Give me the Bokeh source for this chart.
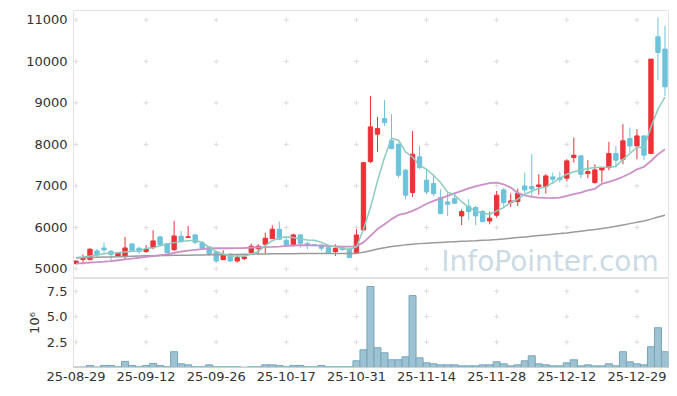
from bokeh.plotting import figure
from bokeh.models import ColumnDataSource, Range1d, FixedTicker, NumeralTickFormatter, Label
from bokeh.layouts import column
from bokeh.embed import file_html
from bokeh.resources import INLINE

# ---------------- data ----------------
dates = [
    "25-08-29",
    "25-09-01", "25-09-02", "25-09-03", "25-09-04", "25-09-05",
    "25-09-08", "25-09-09", "25-09-10", "25-09-11", "25-09-12",
    "25-09-15", "25-09-16", "25-09-17", "25-09-18", "25-09-19",
    "25-09-22", "25-09-23", "25-09-24", "25-09-25", "25-09-26",
    "25-09-29", "25-09-30", "25-10-01", "25-10-02", "25-10-10",
    "25-10-13", "25-10-14", "25-10-15", "25-10-16", "25-10-17",
    "25-10-20", "25-10-21", "25-10-22", "25-10-23", "25-10-24",
    "25-10-27", "25-10-28", "25-10-29", "25-10-30", "25-10-31",
    "25-11-03", "25-11-04", "25-11-05", "25-11-06", "25-11-07",
    "25-11-10", "25-11-11", "25-11-12", "25-11-13", "25-11-14",
    "25-11-17", "25-11-18", "25-11-19", "25-11-20", "25-11-21",
    "25-11-24", "25-11-25", "25-11-26", "25-11-27", "25-11-28",
    "25-12-01", "25-12-02", "25-12-03", "25-12-04", "25-12-05",
    "25-12-08", "25-12-09", "25-12-10", "25-12-11", "25-12-12",
    "25-12-15", "25-12-16", "25-12-17", "25-12-18", "25-12-19",
    "25-12-22", "25-12-23", "25-12-24", "25-12-26", "25-12-29",
    "25-12-30", "26-01-02", "26-01-05", "26-01-06",
]

opens = [5130, 5230, 5224, 5434, 5506, 5426, 5313, 5313, 5602, 5499,
         5417, 5513, 5771, 5610, 5465, 5787, 5760, 5819, 5634, 5530,
         5410, 5224, 5354, 5193, 5250, 5393, 5490, 5595, 5730, 5957,
         5692, 5578, 5819, 5610, 5586, 5571, 5513, 5417, 5513, 5475,
         5393, 5940, 7586, 8246, 8622, 8085, 8005, 7379, 6840, 7700,
         7138, 7056, 6718, 6615, 6696, 6277, 6511, 6478, 6381, 6157,
         6294, 6904, 6598, 6622, 7000, 6984, 6984, 6984, 7217, 7193,
         7186, 7683, 7723, 7297, 7080, 7385, 7441, 7779, 7644, 8140,
         7964, 8205, 7779, 10591, 10295]
highs = [5200, 5350, 5500, 5480, 5643, 5458, 5398, 5771, 5627, 5530,
         5578, 5933, 5795, 5627, 6157, 5916, 6035, 5836, 5675, 5554,
         5434, 5450, 5386, 5330, 5313, 5610, 5595, 5875, 6053, 6140,
         5747, 5851, 5830, 5658, 5600, 5602, 5530, 5595, 5537, 5506,
         5957, 7580, 9169, 8663, 9066, 8728, 8020, 7410, 8326, 7964,
         7403, 7282, 6920, 6840, 6840, 6439, 6680, 6518, 6420, 6381,
         6880, 6952, 6815, 6935, 7321, 7764, 7282, 7282, 7321, 7345,
         7644, 8164, 7747, 7620, 7523, 7441, 8061, 7964, 8487, 8406,
         8367, 8205, 10054, 11056, 10856]
lows = [5110, 5110, 5220, 5290, 5393, 5193, 5290, 5234, 5417, 5369,
        5393, 5475, 5554, 5374, 5434, 5634, 5755, 5595, 5458, 5313,
        5145, 5220, 5169, 5152, 5210, 5354, 5354, 5369, 5730, 5692,
        5537, 5537, 5513, 5475, 5550, 5434, 5354, 5313, 5441, 5260,
        5380, 5920, 7547, 7820, 8446, 7885, 7200, 6680, 6735, 7403,
        6800, 6760, 6318, 6277, 6574, 6060, 6174, 6053, 6120, 6077,
        6236, 6494, 6494, 6518, 6824, 6735, 6783, 6815, 7041, 7080,
        7104, 7562, 7186, 7186, 7056, 7080, 7379, 7441, 7523, 7803,
        7643, 7620, 7779, 9548, 9169]
closes = [5190, 5250, 5475, 5337, 5458, 5345, 5386, 5506, 5450, 5417,
          5475, 5675, 5586, 5393, 5795, 5675, 5775, 5643, 5499, 5369,
          5193, 5337, 5193, 5273, 5290, 5547, 5547, 5740, 5957, 5716,
          5571, 5819, 5619, 5586, 5562, 5499, 5378, 5490, 5465, 5273,
          5819, 7560, 8422, 8381, 8526, 7900, 7258, 6776, 7765, 7441,
          6856, 6815, 6333, 6559, 6583, 6381, 6381, 6277, 6140, 6222,
          6776, 6598, 6639, 6815, 6904, 6928, 7024, 7241, 7162, 7152,
          7603, 7740, 7282, 7345, 7386, 7441, 7779, 7620, 8085, 7964,
          8205, 7740, 10054, 10214, 9386]

# volume, in millions of shares
volumes = [0.05, 0.05, 0.2, 0.05, 0.2, 0.2, 0.07, 0.6, 0.2, 0.07,
           0.2, 0.4, 0.2, 0.07, 1.55, 0.36, 0.26, 0.07, 0.07, 0.26,
           0.07, 0.07, 0.07, 0.07, 0.03, 0.07, 0.07, 0.26, 0.26, 0.2,
           0.07, 0.2, 0.2, 0.07, 0.07, 0.2, 0.07, 0.07, 0.07, 0.07,
           0.66, 1.74, 7.96, 1.94, 1.45, 0.76, 0.76, 1.05, 7.07, 0.95,
           0.46, 0.36, 0.26, 0.26, 0.26, 0.16, 0.16, 0.16, 0.26, 0.26,
           0.56, 0.36, 0.16, 0.26, 0.66, 1.15, 0.36, 0.26, 0.16, 0.16,
           0.46, 0.76, 0.16, 0.26, 0.16, 0.16, 0.36, 0.16, 1.55, 0.56,
           0.36, 0.26, 2.04, 3.91, 1.55]

ma5 = [5273, 5290, 5310, 5337, 5365, 5385, 5393, 5410, 5425, 5434,
       5500, 5513, 5560, 5600, 5634, 5660, 5680, 5692, 5640, 5520,
       5420, 5360, 5313, 5310, 5313, 5354, 5420, 5560, 5680, 5750,
       5771, 5760, 5720, 5700, 5690, 5640, 5570, 5530, 5490, 5475,
       5530, 5957, 6478, 7120, 7683, 8150, 8100, 7820, 7690, 7500,
       7400, 7250, 7080, 6850, 6780, 6620, 6480, 6398, 6340, 6318,
       6400, 6480, 6600, 6680, 6800, 6870, 6940, 6976, 7080, 7180,
       7282, 7340, 7379, 7420, 7441, 7450, 7458, 7470, 7640, 7780,
       7930, 7925, 8420, 8850, 9140]
ma20 = [5128, 5140, 5155, 5165, 5176, 5190, 5210, 5230, 5250, 5270,
        5290, 5310, 5330, 5350, 5390, 5420, 5440, 5460, 5480, 5495,
        5499, 5499, 5499, 5500, 5505, 5515, 5520, 5525, 5530, 5540,
        5555, 5565, 5571, 5571, 5568, 5560, 5550, 5545, 5540, 5537,
        5545, 5640, 5795, 5960, 6077, 6200, 6300, 6340, 6400, 6480,
        6570, 6640, 6700, 6760, 6820, 6880, 6940, 6990, 7030, 7065,
        7080, 7040, 6960, 6830, 6770, 6735, 6720, 6710, 6705, 6720,
        6760, 6800, 6840, 6890, 6930, 7050, 7097, 7150, 7220, 7300,
        7400, 7460, 7600, 7760, 7884]
ma60 = [5265, 5270, 5275, 5280, 5285, 5290, 5295, 5300, 5305, 5310,
        5315, 5318, 5321, 5324, 5327, 5330, 5333, 5336, 5338, 5340,
        5342, 5345, 5348, 5351, 5354, 5357, 5360, 5362, 5364, 5366,
        5368, 5369, 5370, 5371, 5372, 5372, 5373, 5373, 5374, 5374,
        5375, 5400, 5440, 5480, 5513, 5540, 5560, 5580, 5595, 5610,
        5620, 5630, 5640, 5650, 5658, 5665, 5672, 5680, 5690, 5698,
        5707, 5723, 5739, 5755, 5771, 5787, 5803, 5819, 5835, 5851,
        5868, 5889, 5910, 5931, 5952, 5974, 5996, 6028, 6060, 6092,
        6124, 6157, 6200, 6250, 6294]

price_ticks = [5000, 6000, 7000, 8000, 9000, 10000, 11000]
vol_ticks = [2.5, 5.0, 7.5]
date_tick_step = 10

UP = "#ec3237"
DOWN = "#6cc3da"
FONT = "DejaVu Sans"
LABEL_COLOR = "#333333"
BORDER = "#e2e2e2"
CROSS = "#dcdcdc"

idx = list(range(len(dates)))
date_ticks = idx[::date_tick_step]

src = ColumnDataSource(dict(
    x=idx, o=opens, h=highs, l=lows, c=closes,
    top=[max(o, c) for o, c in zip(opens, closes)],
    bot=[min(o, c) for o, c in zip(opens, closes)],
    color=[UP if c >= o else DOWN for o, c in zip(opens, closes)],
    vol=volumes, ma5=ma5, ma20=ma20, ma60=ma60,
))

x_range = Range1d(-0.35, 84.5)

# ---------------- price panel ----------------
p = figure(width=669, height=278, x_range=x_range, y_range=Range1d(4770, 11225),
           output_backend="svg", toolbar_location=None,
           min_border_left=73, min_border_right=1, min_border_top=10, min_border_bottom=0)
p.xaxis.visible = False
p.grid.visible = False
p.outline_line_color = BORDER
p.background_fill_color = "white"
p.border_fill_color = "white"

ax = p.yaxis[0]
ax.ticker = FixedTicker(ticks=price_ticks)
ax.formatter = NumeralTickFormatter(format="0")
ax.major_tick_line_color = None
ax.minor_tick_line_color = None
ax.major_tick_out = 0
ax.major_tick_in = 0
ax.axis_line_color = BORDER
ax.major_label_standoff = 6
ax.major_label_text_font = FONT
ax.major_label_text_font_size = "13px"
ax.major_label_text_color = LABEL_COLOR

# grid crosses at tick intersections
cx = [t for t in date_ticks for _ in price_ticks]
cy = [v for _ in date_ticks for v in price_ticks]
p.scatter(cx, cy, marker="cross", size=5, line_color=CROSS, line_width=1)

wm = Label(x=52.1, y=5185, x_units="data", y_units="data", text="InfoPointer.com",
           text_font=FONT, text_font_size="28px", text_color="#c4d6e2",
           text_alpha=0.9, text_baseline="alphabetic", text_align="left")
p.add_layout(wm)

p.segment(x0="x", y0="l", x1="x", y1="h", source=src, line_color="color", line_width=1)
p.vbar(x="x", width=0.62, top="top", bottom="bot", source=src,
       fill_color="color", line_color="color", line_width=1)

p.line("x", "ma60", source=src, line_color="#9a9a9a", line_width=1.5)
p.line("x", "ma20", source=src, line_color="#cc90c8", line_width=1.8)
p.line("x", "ma5", source=src, line_color="#8ccbc0", line_width=1.5)

# ---------------- volume panel ----------------
v = figure(width=669, height=112, x_range=x_range, y_range=Range1d(0, 8.75),
           output_backend="svg", toolbar_location=None,
           min_border_left=73, min_border_right=1, min_border_top=0, min_border_bottom=23)
v.grid.visible = False
v.outline_line_color = BORDER

vy = v.yaxis[0]
vy.ticker = FixedTicker(ticks=vol_ticks)
vy.formatter = NumeralTickFormatter(format="0.0")
vy.major_tick_line_color = None
vy.minor_tick_line_color = None
vy.major_tick_out = 0
vy.major_tick_in = 0
vy.axis_line_color = BORDER
vy.major_label_standoff = 6
vy.major_label_text_font = FONT
vy.major_label_text_font_size = "13px"
vy.major_label_text_color = LABEL_COLOR
vy.axis_label = "10\u2076"
vy.axis_label_text_font = FONT
vy.axis_label_text_font_size = "13px"
vy.axis_label_text_font_style = "normal"
vy.axis_label_text_color = LABEL_COLOR
vy.axis_label_standoff = 2

vx = v.xaxis[0]
vx.ticker = FixedTicker(ticks=date_ticks)
vx.major_label_overrides = {t: dates[t] for t in date_ticks}
vx.major_tick_line_color = None
vx.minor_tick_line_color = None
vx.major_tick_out = 0
vx.major_tick_in = 0
vx.axis_line_color = "#d0d0d0"
vx.major_label_standoff = 4
vx.major_label_text_font = FONT
vx.major_label_text_font_size = "13px"
vx.major_label_text_color = LABEL_COLOR

vcx = [t for t in date_ticks for _ in vol_ticks]
vcy = [val for _ in date_ticks for val in vol_ticks]
v.scatter(vcx, vcy, marker="cross", size=5, line_color=CROSS, line_width=1)

v.vbar(x="x", width=1.0, top="vol", bottom=0, source=src,
       fill_color="#9dc2d2", line_color="#77a6bb", line_width=1)

layout = column(p, v)
open("out.html", "w").write(file_html(layout, INLINE))
